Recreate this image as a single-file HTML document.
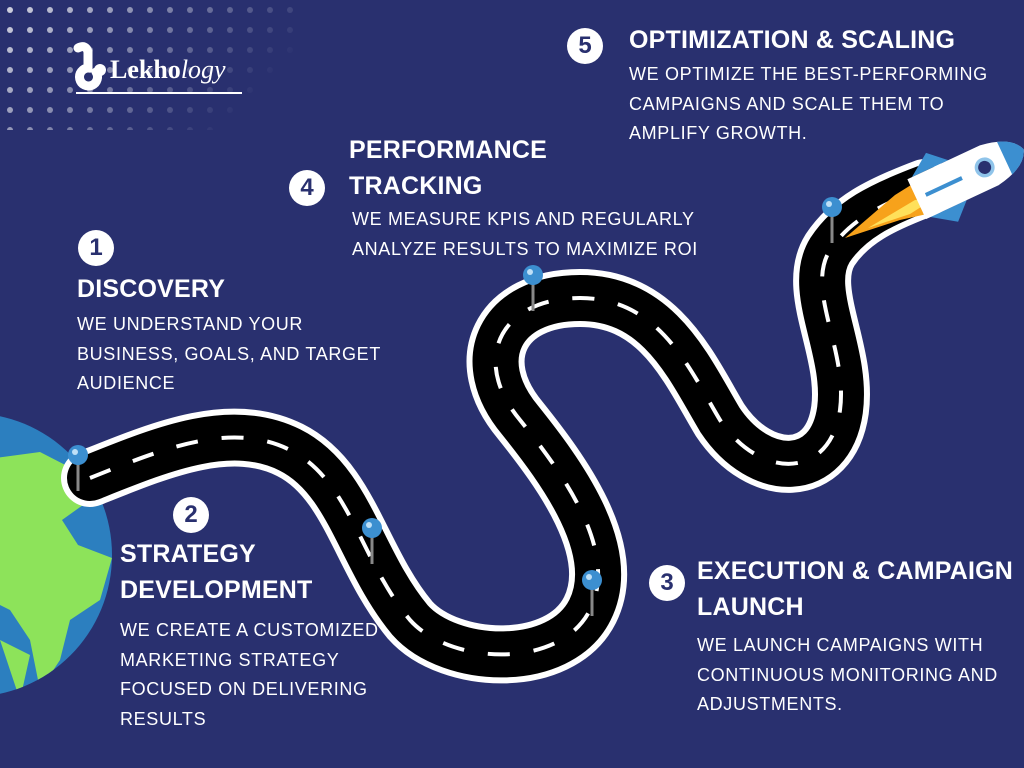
<!DOCTYPE html>
<html><head><meta charset="utf-8"><style>
body{margin:0;width:1024px;height:768px;overflow:hidden;background:#29306f;font-family:"Liberation Sans",sans-serif;color:#fff}
.t{position:absolute;font-weight:bold;font-size:25px;line-height:36px;letter-spacing:0.2px}
.b{position:absolute;font-size:18px;line-height:29.5px;letter-spacing:0.65px}
.n{position:absolute;width:36px;height:36px;border-radius:50%;background:#fff;color:#29306f;font-weight:bold;font-size:24px;line-height:36px;text-align:center}
</style></head><body>
<svg width="1024" height="768" style="position:absolute;left:0;top:0">
<defs>
<pattern id="dots" width="20" height="20" patternUnits="userSpaceOnUse"><circle cx="10" cy="10" r="3" fill="#fff"/></pattern>
<linearGradient id="lg" x1="0" y1="0" x2="1" y2="0.4"><stop offset="0" stop-color="#fff"/><stop offset="1" stop-color="#000"/></linearGradient>
<mask id="dm"><rect width="300" height="130" fill="url(#lg)"/></mask>
<clipPath id="gc"><circle cx="-30" cy="555" r="142"/></clipPath></defs>
<rect width="300" height="130" fill="url(#dots)" mask="url(#dm)" opacity="0.8"/>
<circle cx="-30" cy="555" r="142" fill="#2c7fbf"/>
<g clip-path="url(#gc)" fill="#8de35a">
<path d="M-20 460 L40 452 L75 470 L90 500 L62 520 L78 545 L112 558 L100 600 L70 620 L60 660 L40 690 L30 640 L10 610 L-10 600 Z"/>
<path d="M0 640 L30 655 L20 700 Z"/>
</g>
<g fill="none" stroke-linecap="round" stroke-linejoin="round">
<path d="M90 478 C160 450,230 420,290 450 C350 480,360 560,410 620 C450 665,560 670,590 610 C620 550,560 470,520 420 C470 360,500 298,580 298 C660 298,690 370,720 420 C760 480,830 480,840 410 C848 350,805 290,830 250 C850 220,880 205,925 188" stroke="#fff" stroke-width="58"/>
<path d="M90 478 C160 450,230 420,290 450 C350 480,360 560,410 620 C450 665,560 670,590 610 C620 550,560 470,520 420 C470 360,500 298,580 298 C660 298,690 370,720 420 C760 480,830 480,840 410 C848 350,805 290,830 250 C850 220,880 205,925 188" stroke="#000" stroke-width="46"/>
<path d="M90 478 C160 450,230 420,290 450 C350 480,360 560,410 620 C450 665,560 670,590 610 C620 550,560 470,520 420 C470 360,500 298,580 298 C660 298,690 370,720 420 C760 480,830 480,840 410 C848 350,805 290,830 250 C850 220,880 205,925 188" stroke="#fff" stroke-width="4" stroke-dasharray="22 24" stroke-linecap="butt"/>
</g>
<path d="M845 238 L895 195 L935 170 L945 210 L900 220 Z" fill="#f7a21b"/>
<path d="M868 228 L915 200 L935 198 L910 214 Z" fill="#ffe05a"/>
<g transform="translate(962,178) rotate(-25)">
<path d="M-45 -22 L-22 -38 L-5 -22 Z" fill="#3c8fd0"/>
<path d="M-45 22 L-22 38 L-5 22 Z" fill="#3c8fd0"/>
<path d="M-50 -22 L30 -22 Q62 -17 68 0 Q62 17 30 22 L-50 22 Z" fill="#fff"/>
<path d="M47 -18 Q64 -12 68 0 Q64 12 47 18 Z" fill="#3c8fd0"/>
<circle cx="25" cy="0" r="10" fill="#8fc4ea"/><circle cx="25" cy="0" r="6.5" fill="#29306f"/>
<rect x="-40" y="-2" width="40" height="4" fill="#3c8fd0"/>
</g>
<g>
<g transform="translate(78,455)"><rect x="-1.5" y="0" width="3" height="36" fill="#888"/><circle r="10" fill="#3c8fd0"/><circle cx="-3" cy="-3" r="3" fill="#bfe0f7"/></g>
<g transform="translate(372,528)"><rect x="-1.5" y="0" width="3" height="36" fill="#888"/><circle r="10" fill="#3c8fd0"/><circle cx="-3" cy="-3" r="3" fill="#bfe0f7"/></g>
<g transform="translate(592,580)"><rect x="-1.5" y="0" width="3" height="36" fill="#888"/><circle r="10" fill="#3c8fd0"/><circle cx="-3" cy="-3" r="3" fill="#bfe0f7"/></g>
<g transform="translate(533,275)"><rect x="-1.5" y="0" width="3" height="36" fill="#888"/><circle r="10" fill="#3c8fd0"/><circle cx="-3" cy="-3" r="3" fill="#bfe0f7"/></g>
<g transform="translate(832,207)"><rect x="-1.5" y="0" width="3" height="36" fill="#888"/><circle r="10" fill="#3c8fd0"/><circle cx="-3" cy="-3" r="3" fill="#bfe0f7"/></g>
</g>
<path d="M78 48 Q86 44 88 52 L88 68 A9 9 0 1 0 96 72" fill="none" stroke="#fff" stroke-width="9" stroke-linecap="round"/>
<circle cx="100" cy="70" r="6" fill="#fff"/>
<text x="110" y="78" font-family="Liberation Serif,serif" font-size="26" font-weight="bold" fill="#fff">Lekho<tspan font-style="italic" font-weight="normal">logy</tspan></text>
<rect x="76" y="92" width="166" height="2" fill="#fff"/>
</svg>
<div class="n" style="left:567px;top:28px">5</div>
<div class="t" style="left:629px;top:22px">OPTIMIZATION &amp; SCALING</div>
<div class="b" style="left:629px;top:60px">WE OPTIMIZE THE BEST-PERFORMING<br>CAMPAIGNS AND SCALE THEM TO<br>AMPLIFY GROWTH.</div>
<div class="n" style="left:289px;top:170px">4</div>
<div class="t" style="left:349px;top:132px">PERFORMANCE<br>TRACKING</div>
<div class="b" style="left:352px;top:205px">WE MEASURE KPIS AND REGULARLY<br>ANALYZE RESULTS TO MAXIMIZE ROI</div>
<div class="n" style="left:78px;top:230px">1</div>
<div class="t" style="left:77px;top:271px">DISCOVERY</div>
<div class="b" style="left:77px;top:310px">WE UNDERSTAND YOUR<br>BUSINESS, GOALS, AND TARGET<br>AUDIENCE</div>
<div class="n" style="left:173px;top:497px">2</div>
<div class="t" style="left:120px;top:536px">STRATEGY<br>DEVELOPMENT</div>
<div class="b" style="left:120px;top:616px">WE CREATE A CUSTOMIZED<br>MARKETING STRATEGY<br>FOCUSED ON DELIVERING<br>RESULTS</div>
<div class="n" style="left:649px;top:565px">3</div>
<div class="t" style="left:697px;top:553px">EXECUTION &amp; CAMPAIGN<br>LAUNCH</div>
<div class="b" style="left:697px;top:631px">WE LAUNCH CAMPAIGNS WITH<br>CONTINUOUS MONITORING AND<br>ADJUSTMENTS.</div>
</body></html>
